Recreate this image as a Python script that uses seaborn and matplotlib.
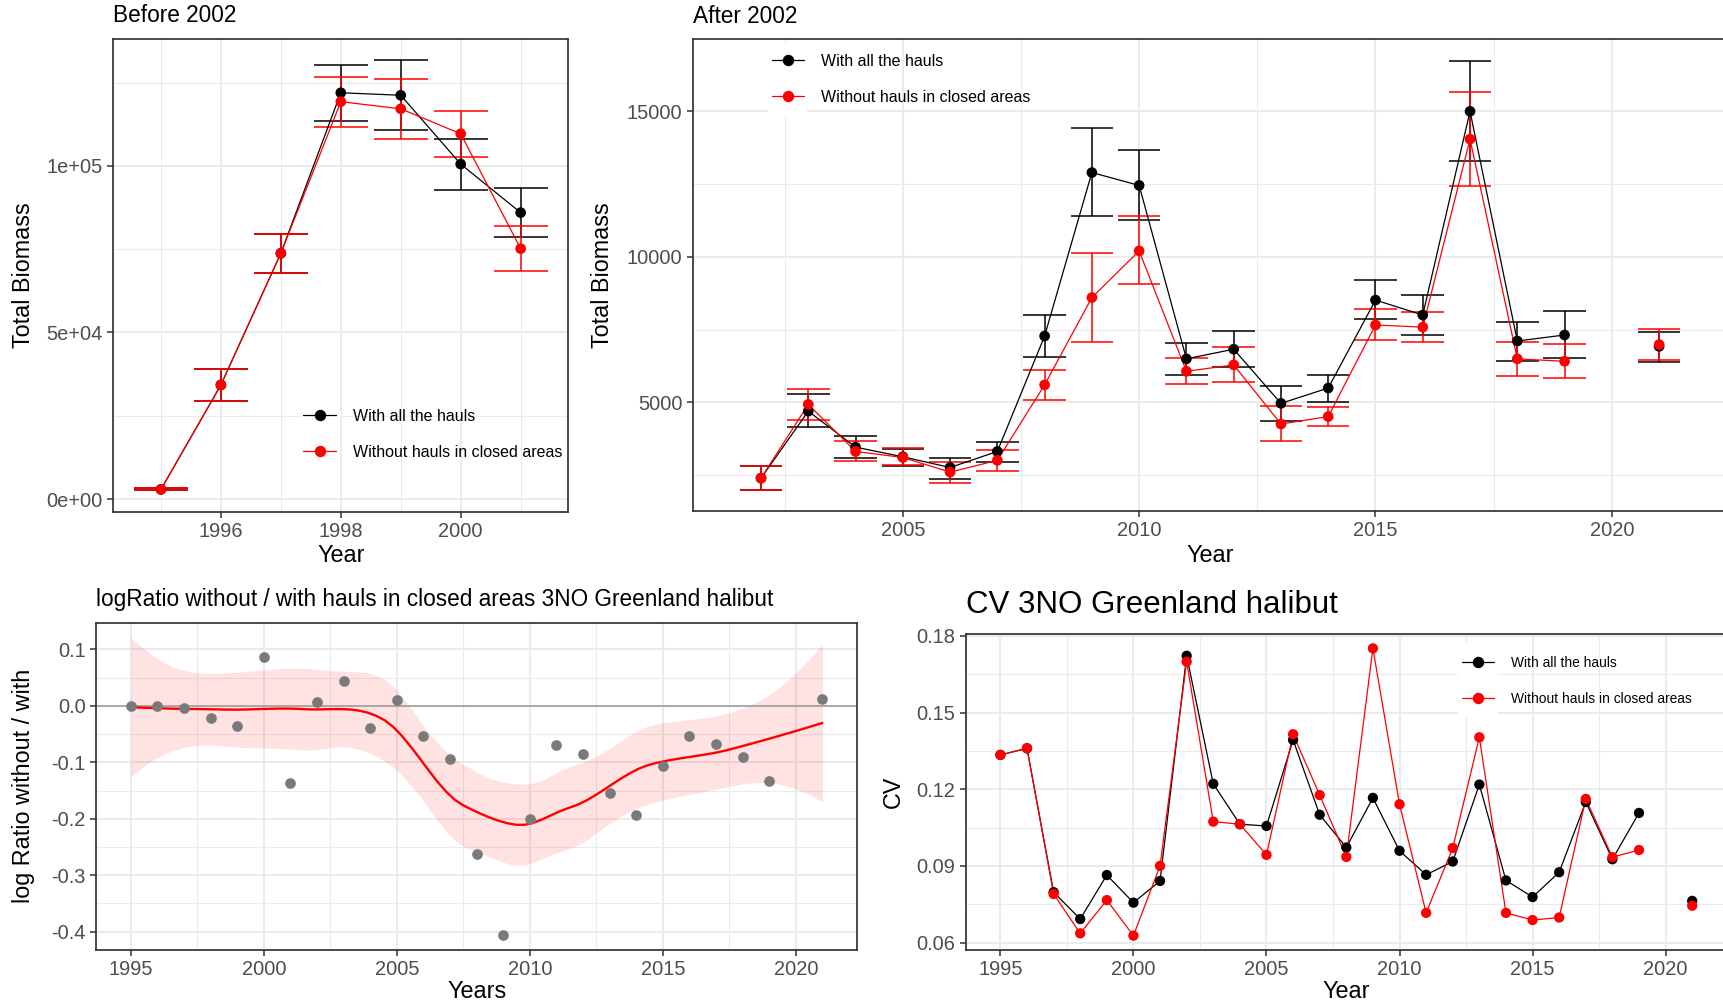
import numpy as np
import pandas as pd
import matplotlib
matplotlib.use("Agg")
import matplotlib.pyplot as plt
import seaborn as sns
from matplotlib.lines import Line2D
from matplotlib.patches import Rectangle
from matplotlib.ticker import FuncFormatter

# ---------------- data ----------------
years_before = [1995, 1996, 1997, 1998, 1999, 2000, 2001]
with_before = [2890, 34260, 73770, 121950, 121200, 100540, 85970]
with_before_lo = [2570, 29550, 67990, 113490, 110700, 92830, 78690]
with_before_hi = [3430, 39000, 79660, 130190, 131690, 108140, 93250]
without_before = [2890, 34260, 73770, 119270, 117130, 109640, 75160]
without_before_lo = [2570, 29550, 67990, 111670, 108140, 102780, 68420]
without_before_hi = [3430, 39000, 79660, 126770, 126120, 116490, 81910]

nan = np.nan
years_after = list(range(2002, 2022))
with_after = [2393, 4694, 3458, 3127, 2760, 3311, 7277, 12895, 12454, 6493,
              6824, 4963, 5490, 8513, 7999, 15000, 7106, 7313, nan, 6922]
with_after_lo = [2001, 4143, 3090, 2797, 2356, 2931, 6567, 11390, 11255, 5942,
                 6200, 4351, 5024, 7864, 7301, 13287, 6432, 6506, nan, 6371]
with_after_hi = [2821, 5282, 3825, 3409, 3090, 3641, 7987, 14425, 13654, 7044,
                 7460, 5575, 5955, 9186, 8697, 16738, 7754, 8134, nan, 7411]
without_after = [2393, 4927, 3311, 3103, 2601, 3005, 5600, 8599, 10202, 6065,
                 6285, 4253, 4510, 7656, 7583, 14045, 6493, 6408, nan, 6983]
without_after_lo = [2001, 4400, 2968, 2846, 2234, 2638, 5073, 7081, 9064, 5612,
                    5685, 3666, 4192, 7142, 7056, 12418, 5906, 5820, nan, 6457]
without_after_hi = [2821, 5453, 3654, 3421, 2944, 3348, 6114, 10117, 11390, 6518,
                    6897, 4865, 4841, 8195, 8109, 15674, 7081, 7020, nan, 7509]

years_all = list(range(1995, 2022))
log_ratio = [0.0, 0.0, -0.0035, -0.022, -0.035, 0.087, -0.136, 0.0064, 0.0435,
             -0.039, 0.0104, -0.054, -0.095, -0.262, -0.406, -0.200, -0.0695,
             -0.085, -0.154, -0.194, -0.106, -0.054, -0.067, -0.090, -0.133,
             nan, 0.0116]

cv_with = [0.1334, 0.1360, 0.0797, 0.0692, 0.0864, 0.0756, 0.0841, 0.1722,
           0.1221, 0.1063, 0.1056, 0.1393, 0.1100, 0.0972, 0.1166, 0.0959,
           0.0865, 0.0917, 0.1218, 0.0843, 0.0778, 0.0875, 0.1150, 0.0926,
           0.1107, nan, 0.0763]
cv_without = [0.1334, 0.1360, 0.0790, 0.0636, 0.0766, 0.0627, 0.0900, 0.1699,
              0.1073, 0.1063, 0.0943, 0.1415, 0.1177, 0.0935, 0.1751, 0.1141,
              0.0716, 0.0970, 0.1403, 0.0716, 0.0688, 0.0698, 0.1162, 0.0934,
              0.0962, nan, 0.0744]

LAB_WITH = "With all the hauls"
LAB_WO = "Without hauls in closed areas"

# ---------------- style ----------------
sns.set_theme(style="white")
plt.rcParams["font.family"] = ["Liberation Sans", "DejaVu Sans"]
plt.rcParams["axes.unicode_minus"] = False

W, H = 1724, 1005
fig = plt.figure(figsize=(W / 100, H / 100), dpi=100)
fig.patch.set_facecolor("white")

PAL = {LAB_WITH: "#000000", LAB_WO: "#FF0000"}
ORDER = [LAB_WITH, LAB_WO]
GRID = "#EBEBEB"
BORDER = "#333333"
TICKTXT = "#4D4D4D"


def add_ax(l, t, r, b):
    return fig.add_axes([l / W, 1 - b / H, (r - l) / W, (b - t) / H])


def expand(lo, hi, f=0.05):
    d = (hi - lo) * f
    return lo - d, hi + d


def style(ax, xmaj, xmin, ymaj, ymin, yfmt):
    ax.set_facecolor("white")
    ax.set_xticks(xmaj)
    ax.set_xticks(xmin, minor=True)
    ax.set_yticks(ymaj)
    ax.set_yticks(ymin, minor=True)
    ax.yaxis.set_major_formatter(FuncFormatter(yfmt))
    ax.xaxis.set_major_formatter(FuncFormatter(lambda v, p: f"{v:.0f}"))
    ax.grid(True, which="major", color=GRID, lw=1.5)
    ax.grid(True, which="minor", color=GRID, lw=0.75)
    ax.set_axisbelow(True)
    for s in ax.spines.values():
        s.set_visible(True)
        s.set_color(BORDER)
        s.set_linewidth(1.25)
    ax.tick_params(which="major", bottom=True, left=True, length=4, width=1.1,
                   color=BORDER, labelsize=14.4, labelcolor=TICKTXT, pad=3.5)
    ax.tick_params(which="minor", bottom=False, left=False, length=0)


def labels(ax, xlabel, ylabel, xl_y, yl_x, fs=16.8):
    ax.set_xlabel(xlabel, fontsize=fs, color="black")
    ax.set_ylabel(ylabel, fontsize=fs, color="black")
    pos = ax.get_position()
    ax.xaxis.set_label_coords((pos.x0 + pos.x1) / 2, 1 - xl_y / H, transform=fig.transFigure)
    ax.yaxis.set_label_coords(yl_x / W, (pos.y0 + pos.y1) / 2, transform=fig.transFigure)
    ax.xaxis.label.set_va("center")
    ax.yaxis.label.set_va("center")


def legend(ax, key_left, y_center, fs, hl, htp, ls, rect):
    handles = [Line2D([0], [0], color=PAL[k], lw=0.9, marker="o", ms=7.2) for k in ORDER]
    leg = ax.legend(handles, ORDER, loc="center left",
                    bbox_to_anchor=(key_left / W, 1 - y_center / H),
                    bbox_transform=fig.transFigure, frameon=False, fontsize=fs,
                    handlelength=hl, handletextpad=htp, labelspacing=ls,
                    borderpad=0, borderaxespad=0)
    for t in leg.get_texts():
        t.set_color("black")
    l, t, r, b = rect
    ax.add_patch(Rectangle((l / W, 1 - b / H), (r - l) / W, (b - t) / H,
                           transform=fig.transFigure, facecolor="white",
                           edgecolor="none", zorder=0.8))


def long_df(years, series):
    frames = []
    for lab, v, lo, hi in series:
        v = np.asarray(v, float)
        frames.append(pd.DataFrame({"year": years, "value": v, "lo": lo, "hi": hi,
                                    "series": lab, "segment": np.cumsum(np.isnan(v))}))
    return pd.concat(frames, ignore_index=True).dropna(subset=["value"])


def biomass_panel(ax, years, w, wlo, whi, o, olo, ohi):
    df = long_df(years, [(LAB_WITH, w, wlo, whi), (LAB_WO, o, olo, ohi)])
    for lab in ORDER:
        s = df[df.series == lab]
        ax.vlines(s.year, s.lo, s.hi, color=PAL[lab], lw=1.1, zorder=2)
        ax.hlines(s.lo, s.year - 0.45, s.year + 0.45, color=PAL[lab], lw=1.1, zorder=2)
        ax.hlines(s.hi, s.year - 0.45, s.year + 0.45, color=PAL[lab], lw=1.1, zorder=2)
    sns.lineplot(data=df, x="year", y="value", hue="series", hue_order=ORDER,
                 units="segment", estimator=None, palette=PAL, lw=0.9,
                 legend=False, ax=ax, zorder=2.5)
    sns.scatterplot(data=df, x="year", y="value", hue="series", hue_order=ORDER,
                    palette=PAL, s=59, linewidth=0, legend=False, ax=ax, zorder=3)
    ax.set_xlim(*expand(df.year.min() - 0.45, df.year.max() + 0.45))
    ax.set_ylim(*expand(df.lo.min(), df.hi.max()))


# ---- local quadratic regression with kd-tree vertex interpolation (loess-like) ----
def _local_rows(x, x0, q):
    d = np.abs(x - x0)
    h = np.sort(d)[q - 1]
    u = d / h
    w = np.where(u < 1, (1 - u ** 3) ** 3, 0.0)
    X = np.column_stack([np.ones_like(x), x - x0, (x - x0) ** 2])
    XtW = X.T * w
    B = np.linalg.solve(XtW @ X, XtW)
    return B[0], B[1]


def _kd_vertices(x, fc):
    xs = np.sort(x)
    mu = 0.005 * (xs[-1] - xs[0])
    verts = [xs[0] - mu, xs[-1] + mu]

    def split(l, u):
        if u - l + 1 <= fc:
            return
        m = (l + u) // 2
        verts.append(0.5 * (xs[m] + xs[m + 1]))
        split(l, m)
        split(m + 1, u)

    split(0, len(xs) - 1)
    return np.array(sorted(verts))


def loess(x, y, xnew, span=0.6):
    n = len(x)
    q = int(np.floor(n * span))
    fc = max(int(np.floor(n * span * 0.2)), 1)
    V = _kd_vertices(x, fc)
    rows = [_local_rows(x, v, q) for v in V]

    def op(t0):
        k = int(np.clip(np.searchsorted(V, t0) - 1, 0, len(V) - 2))
        hh = V[k + 1] - V[k]
        t = (t0 - V[k]) / hh
        h00 = 2 * t ** 3 - 3 * t ** 2 + 1
        h10 = t ** 3 - 2 * t ** 2 + t
        h01 = -2 * t ** 3 + 3 * t ** 2
        h11 = t ** 3 - t ** 2
        return (h00 * rows[k][0] + h10 * hh * rows[k][1]
                + h01 * rows[k + 1][0] + h11 * hh * rows[k + 1][1])

    L = np.array([op(v) for v in x])
    Ln = np.array([op(v) for v in xnew])
    fit = Ln @ y
    res = y - L @ y
    IL = np.eye(n) - L
    M = IL.T @ IL
    d1, d2 = np.trace(M), np.trace(M @ M)
    sigma = np.sqrt(res @ res / d1)
    se = sigma * np.sqrt((Ln ** 2).sum(axis=1))
    df = d1 ** 2 / d2
    z = 1.959963985
    t = (z + (z ** 3 + z) / 4 / df + (5 * z ** 5 + 16 * z ** 3 + 3 * z) / 96 / df ** 2
         + (3 * z ** 7 + 19 * z ** 5 + 17 * z ** 3 - 15 * z) / 384 / df ** 3)
    return fit, fit - t * se, fit + t * se


# ---------------- panel 1: before 2002 ----------------
ax1 = add_ax(113.3, 38.8, 568.3, 512)
biomass_panel(ax1, years_before, with_before, with_before_lo, with_before_hi,
              without_before, without_before_lo, without_before_hi)
style(ax1, [1996, 1998, 2000], [1995, 1997, 1999, 2001],
      [0, 50000, 100000], [25000, 75000, 125000], lambda v, p: f"{v:.0e}")
labels(ax1, "Year", "Total Biomass", 555, 23.5)
ax1.set_title("Before 2002", loc="left", fontsize=16.3, pad=12, color="black")
legend(ax1, 303.4, 434.3, 11.5, 2.06, 1.04, 1.33, (301, 397, 340, 472))

# ---------------- panel 2: after 2002 ----------------
ax2 = add_ax(692.7, 39.3, 1727.4, 511)
biomass_panel(ax2, years_after, with_after, with_after_lo, with_after_hi,
              without_after, without_after_lo, without_after_hi)
style(ax2, [2005, 2010, 2015, 2020], [2002.5, 2007.5, 2012.5, 2017.5],
      [5000, 10000, 15000], [2500, 7500, 12500], lambda v, p: f"{v:.0f}")
labels(ax2, "Year", "Total Biomass", 555, 602.5)
ax2.set_title("After 2002", loc="left", fontsize=16.3, pad=12, color="black")
legend(ax2, 771.7, 79.4, 11.5, 2.0, 1.09, 1.33, (768, 43, 807, 116))

# ---------------- panel 3: log ratio ----------------
ax3 = add_ax(96.3, 622.7, 857, 950)
yr = np.asarray(years_all, float)
lr = np.asarray(log_ratio, float)
ok = ~np.isnan(lr)
xs = np.linspace(yr[ok].min(), yr[ok].max(), 80)
fit, lo, hi = loess(yr[ok], lr[ok], xs)
ax3.fill_between(xs, lo, hi, color="red", alpha=0.11, lw=0, zorder=1)
ax3.axhline(0, color="#A3A3A3", lw=1.3, zorder=1.5)
sns.lineplot(x=xs, y=fit, color="red", lw=1.7, ax=ax3, zorder=2)
sns.scatterplot(x=yr[ok], y=lr[ok], color="#7A7A7A", s=59, linewidth=0, ax=ax3, zorder=3)
ax3.set_xlim(*expand(yr[ok].min(), yr[ok].max()))
ax3.set_ylim(*expand(min(lr[ok].min(), lo.min()), max(lr[ok].max(), hi.max())))
style(ax3, [1995, 2000, 2005, 2010, 2015, 2020],
      [1997.5, 2002.5, 2007.5, 2012.5, 2017.5],
      list(np.round(np.arange(-0.4, 0.11, 0.1), 1)),
      list(np.round(np.arange(-0.35, 0.11, 0.1), 2)),
      lambda v, p: f"{round(v, 1) + 0.0:.1f}")
labels(ax3, "Years", "log Ratio without / with", 991, 24)
ax3.set_title("logRatio without / with hauls in closed areas 3NO Greenland halibut",
              loc="left", fontsize=16.3, pad=12.3, color="black")

# ---------------- panel 4: CV ----------------
ax4 = add_ax(965.8, 634, 1726.8, 950)
dcv = long_df(years_all, [(LAB_WITH, cv_with, nan, nan), (LAB_WO, cv_without, nan, nan)])
sns.lineplot(data=dcv, x="year", y="value", hue="series", hue_order=ORDER,
             units="segment", estimator=None, palette=PAL, lw=0.9,
             legend=False, ax=ax4, zorder=2.5)
sns.scatterplot(data=dcv, x="year", y="value", hue="series", hue_order=ORDER,
                palette=PAL, s=55, linewidth=0, legend=False, ax=ax4, zorder=3)
ax4.set_xlim(*expand(dcv.year.min(), dcv.year.max()))
ax4.set_ylim(*expand(dcv.value.min(), dcv.value.max()))
style(ax4, [1995, 2000, 2005, 2010, 2015, 2020],
      [1997.5, 2002.5, 2007.5, 2012.5, 2017.5],
      [0.06, 0.09, 0.12, 0.15, 0.18], [0.075, 0.105, 0.135, 0.165],
      lambda v, p: f"{v:.2f}")
labels(ax4, "Year", "CV", 991, 893.5)
ax4.set_title("CV 3NO Greenland halibut", loc="left", fontsize=22.5, pad=15.3, color="black")
legend(ax4, 1462.3, 680.9, 9.9, 2.33, 1.21, 1.65, (1458, 643, 1498, 717))

fig.savefig("out.png", dpi=100, facecolor="white")
